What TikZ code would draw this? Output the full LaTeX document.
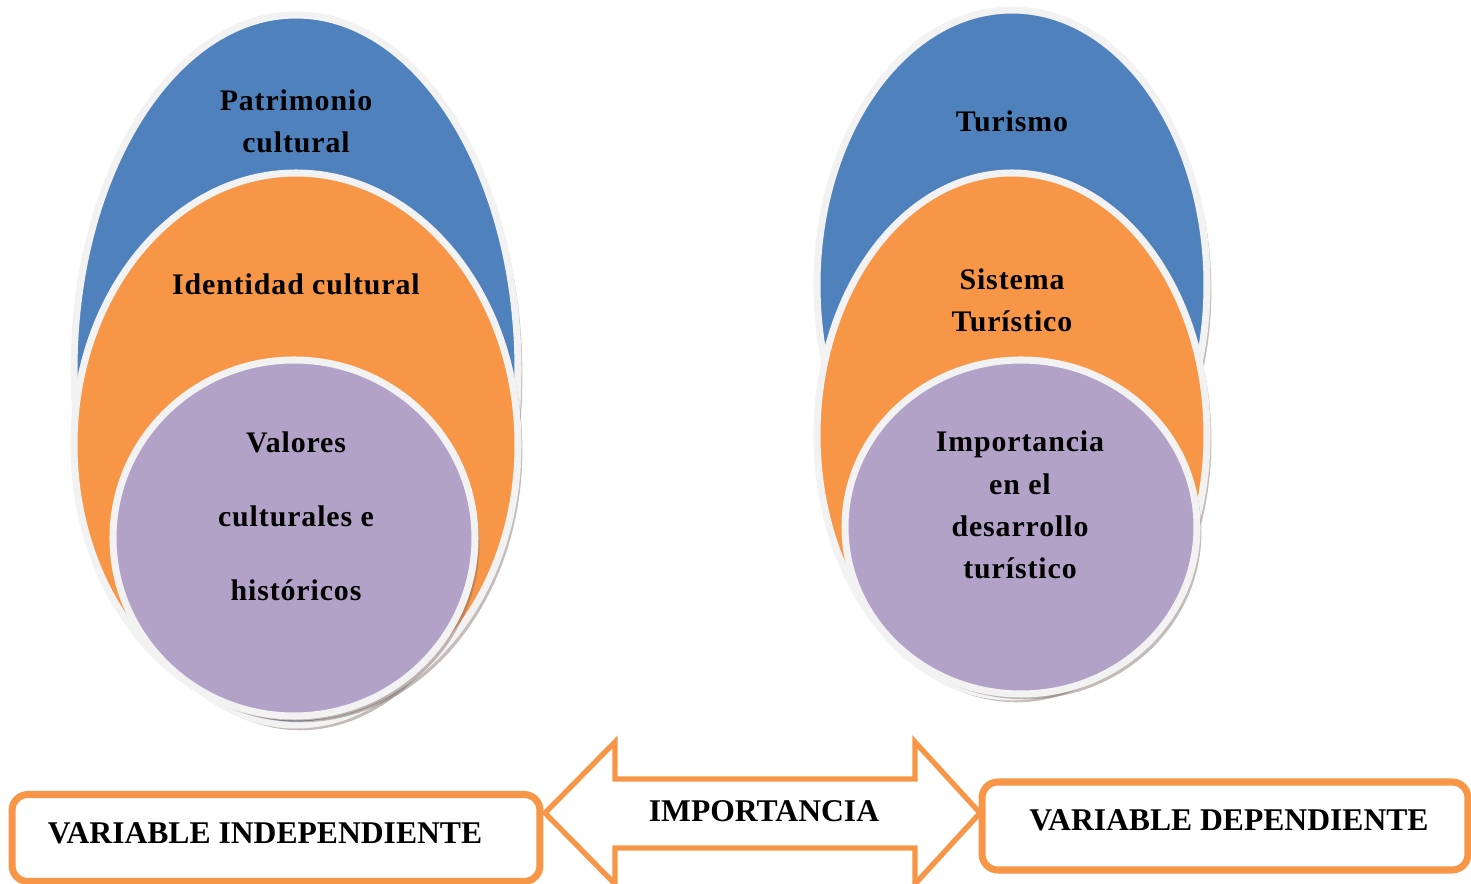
\documentclass[tikz,border=0pt]{standalone}
\usepackage{fontspec}
\setmainfont{Liberation Serif}
\usepackage{tikz}
\usetikzlibrary{shadows}
\definecolor{c_blue}{HTML}{4F81BD}
\definecolor{c_orange}{HTML}{F79646}
\definecolor{c_purple}{HTML}{B2A2C7}
\definecolor{c_rim}{HTML}{F2F2F2}
\definecolor{c_shade}{HTML}{7A6A66}
\newcommand*{\OvalFont}{\fontsize{17}{24}\selectfont\bfseries\addfontfeatures{LetterSpace=3}}
\newcommand*{\VarFont}{\fontsize{18}{20}\selectfont\bfseries}

\begin{document}
\begin{tikzpicture}
[x=0.02cm,y=-0.02cm,
 rim/.style={draw=c_rim, line width=4pt, drop shadow={shadow xshift=2.5pt, shadow yshift=-3pt, fill=c_shade, opacity=0.45}},
 ovaltext/.style={align=center, font=\OvalFont},
 varbox/.style={draw=c_orange, line width=4pt, rounded corners=9pt, fill=white, font=\VarFont},
 vartext/.style={font=\VarFont}]
	\useasboundingbox (0,0) rectangle (1471,884);

	% independiente
	\draw [rim, fill=c_blue]   (296,370) ellipse [x radius=222, y radius=355];
	\draw [rim, fill=c_orange] (296,445) ellipse [x radius=222, y radius=272];
	\draw [rim, fill=c_purple] (294,538) ellipse [x radius=181, y radius=178];
	\node [ovaltext] (patrimonio) at (296,121) {Patrimonio\\cultural};
	\node [ovaltext] (identidad) at (296,284) {Identidad cultural};
	\node [ovaltext] (valores) at (296,516) {Valores\\[18pt]culturales e\\[18pt]históricos};

	% dependiente
	\draw [rim, fill=c_blue]   (1012,285) ellipse [x radius=195, y radius=275];
	\draw [rim, fill=c_orange] (1012,435) ellipse [x radius=195, y radius=262];
	\draw [rim, fill=c_purple] (1021,527) ellipse [x radius=176, y radius=167];
	\node [ovaltext] (turismo) at (1012,121) {Turismo};
	\node [ovaltext] (sistema) at (1012,300) {Sistema\\Turístico};
	\node [ovaltext] (desarrollo) at (1020,505) {Importancia\\en el\\desarrollo\\turístico};

	% variables
	\node [varbox, minimum width=10.56cm, minimum height=1.74cm] (indep) at (276,838) {};
	\node [vartext] at (265,833) {VARIABLE INDEPENDIENTE};
	\node [varbox, minimum width=9.72cm, minimum height=1.76cm] (dep) at (1225,826) {};
	\node [vartext] at (1229,820) {VARIABLE DEPENDIENTE};

	\draw [c_orange, line width=3pt, fill=white, line join=miter]
		(545,813) -- (615,742) -- (615,779) -- (915,779) -- (915,742) --
		(980,813) -- (915,884) -- (915,848) -- (615,848) -- (615,884) -- cycle;
	\node [vartext] (importancia) at (764,811) {IMPORTANCIA};

\end{tikzpicture}
\end{document}
